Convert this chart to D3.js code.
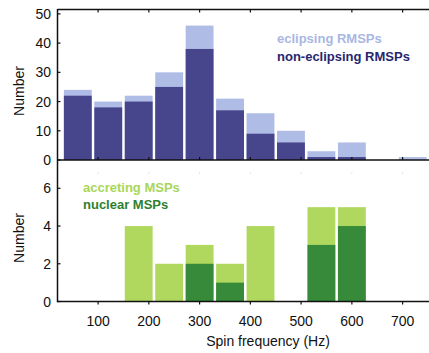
<!DOCTYPE html>
<html lang="en">
<head>
<meta charset="utf-8">
<title>Spin frequency histograms</title>
<script src="https://d3js.org/d3.v7.min.js"></script>
<style>
  body { margin: 0; background: #fff; }
  text { font-family: "Liberation Sans", Arial, Helvetica, sans-serif; }
</style>
</head>
<body>
<script>
// bin lower edges (Hz), each bin is 60 Hz wide
var binStarts = [30, 90, 150, 210, 270, 330, 390, 450, 510, 570, 630, 690];
var binWidth = 60;

// top panel: radio millisecond pulsars
var nonEclipsing = [22, 18, 20, 25, 38, 17, 9, 6, 1, 1, 0, 0];
var eclipsing    = [2, 2, 2, 5, 8, 4, 7, 4, 2, 5, 0, 1];

// bottom panel
var nuclear   = [0, 0, 0, 0, 2, 1, 0, 0, 3, 4, 0, 0];
var accreting = [0, 0, 4, 2, 1, 1, 4, 0, 2, 1, 0, 0];

var xTicks = [100, 200, 300, 400, 500, 600, 700];
var yTicksTop = [0, 10, 20, 30, 40, 50];
var yTicksBottom = [0, 2, 4, 6];

var width = 429, height = 353;
var left = 57.5, right = 429;

var svg = d3.select("body").append("svg")
    .attr("width", width)
    .attr("height", height);

var x = d3.scaleLinear().domain([20, 752]).range([left, right]);
var yTop = d3.scaleLinear().domain([0, 51.5]).range([160, 9.5]);
var yBot = d3.scaleLinear().domain([0, 7.5]).range([301.5, 160]);

function drawBars(y, lower, upper, cLow, cUp) {
    var g = svg.append("g");
    binStarts.forEach(function (b, i) {
        var total = lower[i] + upper[i];
        if (total === 0) return;
        var x0 = x(b) + 1.3, w = x(b + binWidth) - x(b) - 2.6;
        g.append("rect")
            .attr("x", x0).attr("width", w)
            .attr("y", y(total)).attr("height", y(0) - y(total))
            .attr("fill", cUp);
        if (lower[i] > 0) {
            g.append("rect")
                .attr("x", x0).attr("width", w)
                .attr("y", y(lower[i])).attr("height", y(0) - y(lower[i]))
                .attr("fill", cLow);
        }
    });
}

drawBars(yTop, nonEclipsing, eclipsing, "#47458b", "#afbce6");
drawBars(yBot, nuclear, accreting, "#368a39", "#b0d85e");

// frames
var frame = svg.append("g").attr("stroke", "#111").attr("stroke-width", 1.5).attr("fill", "none");
frame.append("line").attr("x1", left).attr("x2", right).attr("y1", 9.5).attr("y2", 9.5);
frame.append("line").attr("x1", left).attr("x2", right).attr("y1", 160).attr("y2", 160);
frame.append("line").attr("x1", left).attr("x2", right).attr("y1", 301.5).attr("y2", 301.5);
frame.append("line").attr("x1", left).attr("x2", left).attr("y1", 9).attr("y2", 302.2);

// ticks
var ticks = svg.append("g").attr("stroke", "#111").attr("stroke-width", 1.2);
xTicks.forEach(function (t) {
    ticks.append("line").attr("x1", x(t)).attr("x2", x(t)).attr("y1", 9.5).attr("y2", 12.5);
    ticks.append("line").attr("x1", x(t)).attr("x2", x(t)).attr("y1", 160).attr("y2", 157);
    ticks.append("line").attr("x1", x(t)).attr("x2", x(t)).attr("y1", 301.5).attr("y2", 304.5);
    svg.append("line").attr("x1", x(t)).attr("x2", x(t)).attr("y1", 172).attr("y2", 174)
        .attr("stroke", "#e4e4e4").attr("stroke-width", 1);
});
yTicksTop.forEach(function (t) {
    ticks.append("line").attr("x1", left).attr("x2", left + 3).attr("y1", yTop(t)).attr("y2", yTop(t));
});
yTicksBottom.forEach(function (t) {
    ticks.append("line").attr("x1", left).attr("x2", left + 3).attr("y1", yBot(t)).attr("y2", yBot(t));
});

// tick labels
svg.append("g").selectAll("text").data(yTicksTop).join("text")
    .attr("x", 51).attr("y", function (d) { return yTop(d) + 5; })
    .attr("text-anchor", "end").attr("font-size", 14).attr("fill", "#111")
    .text(function (d) { return d; });
svg.append("g").selectAll("text").data(yTicksBottom).join("text")
    .attr("x", 51).attr("y", function (d) { return yBot(d) + 5; })
    .attr("text-anchor", "end").attr("font-size", 14).attr("fill", "#111")
    .text(function (d) { return d; });
svg.append("g").selectAll("text").data(xTicks).join("text")
    .attr("x", function (d) { return x(d); }).attr("y", 326)
    .attr("text-anchor", "middle").attr("font-size", 14).attr("fill", "#111")
    .text(function (d) { return d; });

// axis titles
svg.append("text").attr("transform", "translate(24,91) rotate(-90)")
    .attr("text-anchor", "middle").attr("font-size", 14).attr("fill", "#111").text("Number");
svg.append("text").attr("transform", "translate(24,238) rotate(-90)")
    .attr("text-anchor", "middle").attr("font-size", 14).attr("fill", "#111").text("Number");
svg.append("text").attr("x", 268).attr("y", 346)
    .attr("text-anchor", "middle").attr("font-size", 14).attr("fill", "#111").text("Spin frequency (Hz)");

// legends
var legend = [
    { label: "eclipsing RMSPs", color: "#a9b7e3", x: 277, y: 43 },
    { label: "non-eclipsing RMSPs", color: "#28266f", x: 277, y: 61 },
    { label: "accreting MSPs", color: "#a8d65a", x: 83, y: 192 },
    { label: "nuclear MSPs", color: "#2e7f30", x: 83, y: 209 }
];
svg.append("g").selectAll("text").data(legend).join("text")
    .attr("x", function (d) { return d.x; }).attr("y", function (d) { return d.y; })
    .attr("font-size", 13).attr("font-weight", "bold")
    .attr("fill", function (d) { return d.color; })
    .text(function (d) { return d.label; });
</script>
</body>
</html>
